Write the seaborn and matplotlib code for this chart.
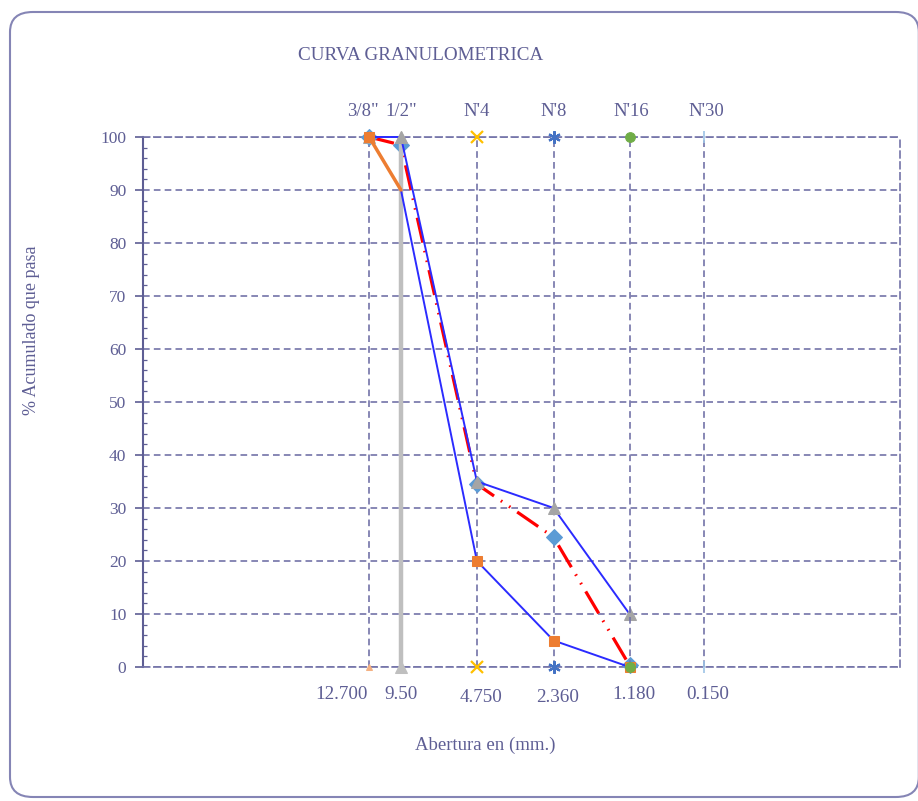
import numpy as np
import matplotlib
matplotlib.use("Agg")
import matplotlib.pyplot as plt
import matplotlib.transforms as mtransforms
from matplotlib.patches import FancyBboxPatch
import seaborn as sns

# =========== DATOS ===========
tamices = ['3/8"', '1/2"', "N'4", "N'8", "N'16", "N'30"]
aberturas = [12.7, 9.5, 4.75, 2.36, 1.18, 0.6]
etiquetas_abertura = ["12.700", "9.50", "4.750", "2.360", "1.180", "0.150"]

muestra_x = [12.7, 9.5, 4.75, 2.36, 1.18]
muestra_y = [100, 98.5, 34.5, 24.5, 0.3]

lim_sup_x = [12.7, 9.5, 4.75, 2.36, 1.18]
lim_sup_y = [100, 100, 35, 30, 10]

lim_inf_x = [12.7, 9.5, 4.75, 2.36, 1.18]
lim_inf_y = [100, 90, 20, 5, 0]

# =========== ESTILO ===========
sns.set_style("white")
plt.rcParams['font.family'] = ['Liberation Serif', 'DejaVu Serif']
c_txt = '#5E5E94'
c_grid = '#7373A8'
dash = (0, (4, 2.5))
sin_est = dict(sort=False, estimator=None, errorbar=None)

fig = plt.figure(figsize=(9.18, 8.01), dpi=100)
ax = fig.add_axes([143 / 918, 1 - 667 / 801, 757 / 918, 530 / 801])

borde = FancyBboxPatch((10 / 918, 4 / 801), 0.99, 1 - 16 / 801,
                       boxstyle="round,pad=0,rounding_size=0.025",
                       transform=fig.transFigure, fill=False,
                       edgecolor='#8585B5', lw=1.5, clip_on=False)
fig.patches.append(borde)

# curva de la muestra
sns.lineplot(x=muestra_x, y=muestra_y, ax=ax, color='#FF0000',
             lw=2.3, linestyle=(0, (8, 2.6, 0.5, 2.6, 0.5, 2.6)),
             marker='D', markersize=8, markerfacecolor='#5B9BD5',
             markeredgecolor='#5B9BD5', zorder=4, clip_on=False, **sin_est)

# limite superior
sns.lineplot(x=lim_sup_x, y=lim_sup_y, ax=ax, color='#2B2BFF',
             lw=1.4, marker='^', markersize=8, markerfacecolor='#A5A5A5',
             markeredgecolor='#A5A5A5', zorder=5, clip_on=False, **sin_est)

# limite inferior
sns.lineplot(x=lim_inf_x[1:], y=lim_inf_y[1:], ax=ax, color='#2B2BFF',
             lw=1.4, zorder=5, **sin_est)
sns.lineplot(x=lim_inf_x[:2], y=lim_inf_y[:2], ax=ax, color='#ED7D31',
             lw=2.5, zorder=5, **sin_est)
sns.lineplot(x=lim_inf_x, y=lim_inf_y, ax=ax, lw=0, markevery=[0, 2, 3, 4],
             marker='s', markersize=7, markerfacecolor='#ED7D31',
             markeredgecolor='#ED7D31', zorder=6, clip_on=False, **sin_est)

# lineas verticales de cada tamiz
estilos = [
    dict(color=c_grid, ls=dash, lw=1.2, marker='^', ms=4, mfc='#F4B183', mec='#F4B183'),
    dict(color='#BFBFBF', ls='-', lw=3.2, marker='^', ms=8, mfc='#BFBFBF', mec='#BFBFBF'),
    dict(color=c_grid, ls=dash, lw=1.2, marker='x', ms=8, mfc='#FFC000', mec='#FFC000', mew=1.6),
    dict(color=c_grid, ls=dash, lw=1.2, marker=(6, 2, 0), ms=9, mfc='#4472C4', mec='#4472C4', mew=1.6),
    dict(color=c_grid, ls=dash, lw=1.2, marker='o', ms=7, mfc='#70AD47', mec='#70AD47'),
    dict(color=c_grid, ls=dash, lw=1.2, marker='|', ms=9, mfc='#9DC3E6', mec='#9DC3E6', mew=1.2),
]
for xa, est in zip(aberturas, estilos):
    z = 4.5 if est['color'] == '#BFBFBF' else (7 if est['marker'] == 'o' else 3)
    sns.lineplot(x=[xa, xa], y=[0, 100], ax=ax, zorder=z, clip_on=False,
                 **sin_est, **est)

# =========== EJES ===========
ax.set_xscale('log')
ax.set_xlim(100, 0.1)
ax.set_ylim(0, 100)
ax.set_xticks([100, 10, 1, 0.1])
ax.set_xticklabels([])
ax.xaxis.set_minor_locator(matplotlib.ticker.NullLocator())
ax.set_yticks(np.arange(0, 101, 10))
ax.set_yticks(np.arange(0, 101, 2), minor=True)
ax.tick_params(axis='x', which='major', direction='inout', length=10,
               color=c_grid, width=1.2)
ax.tick_params(axis='y', which='major', direction='out', length=6, left=True,
               color=c_txt, width=1.2, labelsize=12.5, labelcolor=c_txt, pad=6)
ax.tick_params(axis='y', which='minor', direction='in', length=3, left=True,
               color=c_txt, width=0.9)
ax.yaxis.grid(True, color=c_grid, linestyle=dash, lw=1.2)
ax.xaxis.grid(False)
for lado, sp in ax.spines.items():
    sp.set_color(c_grid)
    sp.set_linewidth(1.2)
    if lado != 'left':
        sp.set_linestyle(dash)
ax.spines['left'].set_color(c_txt)
ax.spines['left'].set_linewidth(1.5)

desp_top = [-6, 0, 0, 0, 2, 3]
for xa, tam, dx in zip(aberturas, tamices, desp_top):
    ax.annotate(tam, (xa, 1.033), xycoords=('data', 'axes fraction'),
                xytext=(dx * 0.72, 0), textcoords='offset points',
                ha='center', va='bottom', fontsize=13.5, color=c_txt)

trans = mtransforms.blended_transform_factory(ax.transData, ax.transAxes)
desp_y = [-0.035, -0.035, -0.042, -0.042, -0.035, -0.035]
for xa, lab, dy in zip(aberturas, etiquetas_abertura, desp_y):
    if lab == "12.700":
        fx, ha = 1.01, 'right'
    elif lab == "9.50":
        fx, ha = 1.0, 'center'
    else:
        fx, ha = 0.96, 'center'
    ax.text(xa * fx, dy, lab, transform=trans, ha=ha, va='top',
            fontsize=13.8, color=c_txt)

fig.text(421 / 918, 1 - 55 / 801, "CURVA GRANULOMETRICA", ha='center', va='center',
         fontsize=13.8, color=c_txt)
fig.text(485 / 918, 1 - 745 / 801, "Abertura en (mm.)", ha='center', va='center',
         fontsize=13.5, color=c_txt)
fig.text(32 / 918, 1 - 330 / 801, "% Acumulado que pasa", ha='center', va='center',
         rotation=90, fontsize=13, color=c_txt)

fig.savefig("out.png", dpi=100)
